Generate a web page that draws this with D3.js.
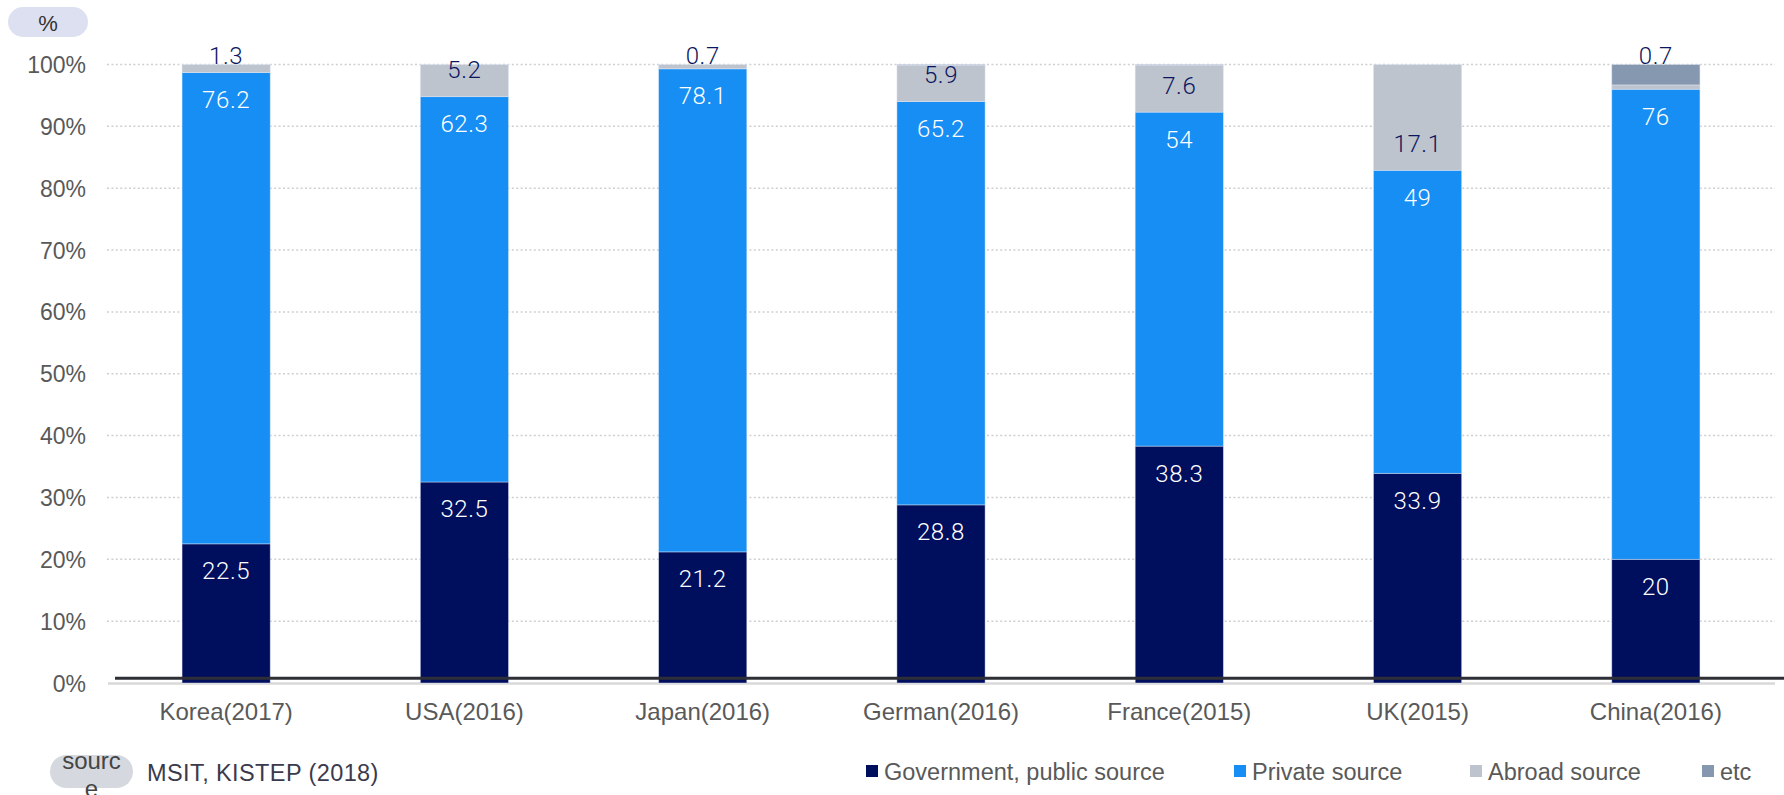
<!DOCTYPE html>
<html>
<head>
<meta charset="utf-8">
<script src="https://cdn.jsdelivr.net/npm/d3@7"></script>
<style>
  html, body { margin: 0; padding: 0; background: #fff; }
  svg { display: block; font-family: "Liberation Sans", Arial, sans-serif; }
</style>
</head>
<body>
<svg id="chart" width="1784" height="795"></svg>
<script>
// R&D funding source shares by country (%)
const categories = ["Korea(2017)", "USA(2016)", "Japan(2016)", "German(2016)", "France(2015)", "UK(2015)", "China(2016)"];
const government = [22.5, 32.5, 21.2, 28.8, 38.3, 33.9, 20];
const privateSource = [76.2, 62.3, 78.1, 65.2, 54, 49, 76];
const abroadSource = [1.3, 5.2, 0.7, 5.9, 7.6, 17.1, 0.7];
const etcSource = [0, 0, 0, 0.1, 0.1, 0, 3.3];
const seriesNames = ["Government, public source", "Private source", "Abroad source", "etc"];
const yTicks = [0, 10, 20, 30, 40, 50, 60, 70, 80, 90, 100];
const sourceText = "MSIT, KISTEP (2018)";

const colors = ["#000e5e", "#168ef4", "#bec4cd", "#8598b0"];
const labelColors = ["#ffffff", "#ffffff", "#0c1660", null];

const svg = d3.select("#chart");
const W = 1784, H = 795;
const plot = { left: 107, right: 1775, top: 64.5, bottom: 683 };

const x = d3.scaleBand().domain(categories).range([plot.left, plot.right])
  .paddingInner(0.63).paddingOuter(0.315);
const y = d3.scaleLinear().domain([0, 100]).range([plot.bottom, plot.top]);

const rows = categories.map((c, i) => ({
  category: c,
  gov: government[i], priv: privateSource[i], abroad: abroadSource[i], etc: etcSource[i]
}));
const keys = ["gov", "priv", "abroad", "etc"];
const stacked = d3.stack().keys(keys)(rows);

// dotted gridlines
svg.append("g").selectAll("line").data(yTicks.filter(t => t > 0)).join("line")
  .attr("x1", plot.left).attr("x2", plot.right)
  .attr("y1", d => y(d)).attr("y2", d => y(d))
  .attr("stroke", "#cfcfcf").attr("stroke-width", 1.5)
  .attr("stroke-dasharray", "2,2.4");

// y axis tick labels
const yAxis = d3.axisLeft(y).tickValues(yTicks).tickFormat(d => d + "%").tickSize(0).tickPadding(0);
const gy = svg.append("g").attr("transform", `translate(86,0)`).call(yAxis);
gy.select(".domain").remove();
gy.selectAll("text").attr("font-size", 23).attr("fill", "#595959")
  .attr("font-family", "'Liberation Sans', Arial, sans-serif").attr("dy", "0.35em");

// light baseline
svg.append("line").attr("x1", plot.left + 1).attr("x2", plot.right)
  .attr("y1", y(0) + 0.5).attr("y2", y(0) + 0.5)
  .attr("stroke", "#d9d9d9").attr("stroke-width", 2.5);

// stacked bars
const gBars = svg.append("g");
stacked.forEach((layer, li) => {
  gBars.append("g").selectAll("rect").data(layer).join("rect")
    .attr("x", d => x(d.data.category))
    .attr("width", x.bandwidth())
    .attr("y", d => y(d[1]))
    .attr("height", d => Math.max(0, y(d[0]) - y(d[1])))
    .attr("fill", colors[li])
    .attr("stroke", "rgba(225,232,245,0.55)")
    .attr("stroke-width", 0.8);
});

// dark category axis line
svg.append("line").attr("x1", 115).attr("x2", W)
  .attr("y1", 678.3).attr("y2", 678.3)
  .attr("stroke", "#2e2f36").attr("stroke-width", 3);

// value labels
const gLabels = svg.append("g").attr("font-size", 24)
  .attr("font-family", "Roboto, 'Liberation Sans', Arial, sans-serif")
  .attr("font-weight", 300)
  .attr("letter-spacing", 0.6)
  .attr("text-anchor", "middle");
stacked.forEach((layer, li) => {
  if (!labelColors[li]) return;
  gLabels.append("g").selectAll("text").data(layer).join("text")
    .attr("x", d => x(d.data.category) + x.bandwidth() / 2)
    .attr("y", d => {
      const v = d[1] - d[0];
      if (li < 2) return y(d[1]) + 27.5;
      const total = keys.reduce((s, k) => s + d.data[k], 0);
      if (v < 2) return y(total) - 8.5;
      return y(d[0]) - 26.5;
    })
    .attr("dominant-baseline", "central")
    .attr("fill", labelColors[li])
    .text(d => d.data[keys[li]]);
});

// x axis category labels
const xAxis = d3.axisBottom(x).tickSize(0).tickPadding(0);
const gx = svg.append("g").attr("transform", `translate(0,712)`).call(xAxis);
gx.select(".domain").remove();
gx.selectAll("text").attr("font-size", 24).attr("fill", "#595959")
  .attr("font-family", "'Liberation Sans', Arial, sans-serif")
  .attr("dy", "0.35em");

// unit badge
svg.append("rect").attr("x", 8).attr("y", 7).attr("width", 80).attr("height", 30)
  .attr("rx", 15).attr("fill", "#dde0f0");
svg.append("text").attr("x", 48).attr("y", 23).attr("text-anchor", "middle")
  .attr("dominant-baseline", "central").attr("font-size", 22).attr("fill", "#333")
  .text("%");

// source badge and note
svg.append("rect").attr("x", 50).attr("y", 755).attr("width", 83).attr("height", 33)
  .attr("rx", 16.5).attr("fill", "#d5d9df");
const srcLabel = svg.append("text").attr("text-anchor", "middle")
  .attr("font-size", 24).attr("fill", "#444");
srcLabel.append("tspan").attr("x", 91.5).attr("y", 769).text("sourc");
srcLabel.append("tspan").attr("x", 91.5).attr("y", 797).text("e");
svg.append("text").attr("x", 147).attr("y", 773).attr("dominant-baseline", "central")
  .attr("font-size", 23.5).attr("fill", "#3a3a4c").attr("letter-spacing", 0.4)
  .text(sourceText);

// legend, items at fixed slots along the bottom row
const legendSlots = [866, 1234, 1470, 1702];
const legend = svg.append("g");
seriesNames.forEach((name, i) => {
  const item = legend.append("g");
  item.append("rect").attr("x", legendSlots[i]).attr("y", 765).attr("width", 12).attr("height", 12)
    .attr("fill", colors[i]);
  item.append("text").attr("x", legendSlots[i] + 18).attr("y", 771.5)
    .attr("dominant-baseline", "central").attr("font-size", 23.5).attr("fill", "#595959")
    .text(name);
});
</script>
</body>
</html>
